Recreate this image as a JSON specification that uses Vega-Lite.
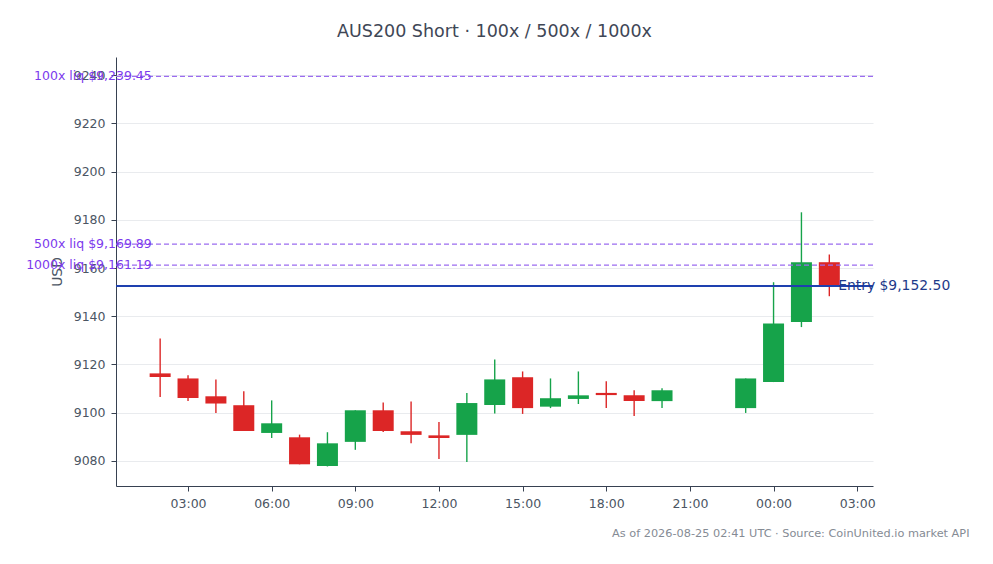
{
  "$schema": "https://vega.github.io/schema/vega-lite/v6.json",
  "width": 757,
  "height": 429,
  "autosize": {"type": "none"},
  "padding": {"left": 116, "top": 57, "right": 120, "bottom": 78},
  "background": "white",
  "title": {
    "text": "AUS200 Short · 100x / 500x / 1000x",
    "font": "DejaVu Sans",
    "fontSize": 17.5,
    "fontWeight": "normal",
    "color": "#3f4756",
    "anchor": "middle",
    "offset": 17
  },
  "config": {
    "view": {"stroke": null},
    "font": "DejaVu Sans",
    "axis": {
      "labelFont": "DejaVu Sans",
      "titleFont": "DejaVu Sans",
      "labelFontSize": 12.5,
      "labelColor": "#4b5563",
      "domainColor": "#374151",
      "tickColor": "#374151",
      "tickSize": 5,
      "labelPadding": 6,
      "gridColor": "#e9ebee"
    }
  },
  "datasets": {
    "candles": [
      {"t": "2026-08-24T02:00:00Z", "open": 9116.3, "high": 9130.8, "low": 9106.5, "close": 9114.8, "dir": "down"},
      {"t": "2026-08-24T03:00:00Z", "open": 9114.2, "high": 9115.5, "low": 9104.8, "close": 9106.1, "dir": "down"},
      {"t": "2026-08-24T04:00:00Z", "open": 9106.8, "high": 9113.8, "low": 9099.9, "close": 9103.8, "dir": "down"},
      {"t": "2026-08-24T05:00:00Z", "open": 9103.1, "high": 9108.9, "low": 9092.4, "close": 9092.4, "dir": "down"},
      {"t": "2026-08-24T06:00:00Z", "open": 9091.6, "high": 9105.1, "low": 9089.5, "close": 9095.6, "dir": "up"},
      {"t": "2026-08-24T07:00:00Z", "open": 9089.8, "high": 9090.9, "low": 9078.6, "close": 9078.6, "dir": "down"},
      {"t": "2026-08-24T08:00:00Z", "open": 9077.9, "high": 9091.9, "low": 9077.7, "close": 9087.3, "dir": "up"},
      {"t": "2026-08-24T09:00:00Z", "open": 9087.9, "high": 9101.0, "low": 9084.6, "close": 9101.0, "dir": "up"},
      {"t": "2026-08-24T10:00:00Z", "open": 9101.0, "high": 9104.2, "low": 9092.0, "close": 9092.4, "dir": "down"},
      {"t": "2026-08-24T11:00:00Z", "open": 9092.3, "high": 9104.6, "low": 9087.3, "close": 9090.8, "dir": "down"},
      {"t": "2026-08-24T12:00:00Z", "open": 9090.6, "high": 9096.1, "low": 9080.8, "close": 9089.5, "dir": "down"},
      {"t": "2026-08-24T13:00:00Z", "open": 9090.8, "high": 9108.2, "low": 9079.6, "close": 9104.0, "dir": "up"},
      {"t": "2026-08-24T14:00:00Z", "open": 9103.2, "high": 9122.1, "low": 9099.7, "close": 9113.8, "dir": "up"},
      {"t": "2026-08-24T15:00:00Z", "open": 9114.7, "high": 9117.1, "low": 9099.5, "close": 9101.9, "dir": "down"},
      {"t": "2026-08-24T16:00:00Z", "open": 9102.5, "high": 9114.2, "low": 9101.9, "close": 9106.0, "dir": "up"},
      {"t": "2026-08-24T17:00:00Z", "open": 9105.7, "high": 9117.1, "low": 9103.6, "close": 9107.2, "dir": "up"},
      {"t": "2026-08-24T18:00:00Z", "open": 9108.2, "high": 9113.0, "low": 9101.9, "close": 9107.3, "dir": "down"},
      {"t": "2026-08-24T19:00:00Z", "open": 9107.2, "high": 9109.3, "low": 9098.6, "close": 9104.8, "dir": "down"},
      {"t": "2026-08-24T20:00:00Z", "open": 9104.8, "high": 9110.1, "low": 9101.9, "close": 9109.3, "dir": "up"},
      {"t": "2026-08-24T23:00:00Z", "open": 9101.9, "high": 9114.2, "low": 9099.9, "close": 9114.2, "dir": "up"},
      {"t": "2026-08-25T00:00:00Z", "open": 9112.7, "high": 9154.1, "low": 9112.7, "close": 9137.0, "dir": "up"},
      {"t": "2026-08-25T01:00:00Z", "open": 9137.6, "high": 9183.1, "low": 9135.5, "close": 9162.4, "dir": "up"},
      {"t": "2026-08-25T02:00:00Z", "open": 9162.4, "high": 9165.6, "low": 9148.3, "close": 9152.5, "dir": "down"}
    ],
    "liq": [
      {"t": "2026-08-24T01:42:00Z", "price": 9239.45, "label": "100x liq $9,239.45"},
      {"t": "2026-08-24T01:42:00Z", "price": 9169.89, "label": "500x liq $9,169.89"},
      {"t": "2026-08-24T01:42:00Z", "price": 9161.19, "label": "1000x liq $9,161.19"}
    ],
    "entry": [
      {"t": "2026-08-25T02:19:00Z", "price": 9152.5, "label": "Entry $9,152.50"}
    ]
  },
  "layer": [
    {
      "data": {"name": "candles"},
      "mark": {"type": "rule", "strokeWidth": 1.4},
      "encoding": {
        "x": {
          "field": "t",
          "type": "temporal",
          "scale": {
            "type": "utc",
            "padding": 0,
            "domain": [
              {"year": 2026, "month": 8, "date": 24, "hours": 0, "minutes": 25, "utc": true},
              {"year": 2026, "month": 8, "date": 25, "hours": 3, "minutes": 34, "utc": true}
            ]
          },
          "axis": {
            "format": "%H:%M",
            "grid": false,
            "values": [
              {"year": 2026, "month": 8, "date": 24, "hours": 3, "utc": true},
              {"year": 2026, "month": 8, "date": 24, "hours": 6, "utc": true},
              {"year": 2026, "month": 8, "date": 24, "hours": 9, "utc": true},
              {"year": 2026, "month": 8, "date": 24, "hours": 12, "utc": true},
              {"year": 2026, "month": 8, "date": 24, "hours": 15, "utc": true},
              {"year": 2026, "month": 8, "date": 24, "hours": 18, "utc": true},
              {"year": 2026, "month": 8, "date": 24, "hours": 21, "utc": true},
              {"year": 2026, "month": 8, "date": 25, "hours": 0, "utc": true},
              {"year": 2026, "month": 8, "date": 25, "hours": 3, "utc": true}
            ],
            "title": "As of 2026-08-25 02:41 UTC · Source: CoinUnited.io market API",
            "titleFontSize": 11.3,
            "titleFontWeight": "normal",
            "titleColor": "#858b94",
            "titleAlign": "right",
            "titleAnchor": "end",
            "titleBaseline": "middle",
            "titleX": 853,
            "titleY": 47
          }
        },
        "y": {
          "field": "low",
          "type": "quantitative",
          "scale": {"domain": [9069.6, 9247.5], "zero": false, "nice": false, "padding": 0},
          "axis": {
            "values": [9080, 9100, 9120, 9140, 9160, 9180, 9200, 9220, 9240],
            "format": "d",
            "grid": true,
            "title": "USD",
            "titleFontSize": 13.9,
            "titleFontWeight": "normal",
            "titleColor": "#4b5563",
            "titlePadding": 9
          }
        },
        "y2": {"field": "high"},
        "color": {
          "field": "dir",
          "type": "nominal",
          "scale": {"domain": ["up", "down"], "range": ["#16a34a", "#dc2626"]},
          "legend": null
        }
      }
    },
    {
      "data": {"name": "candles"},
      "mark": {"type": "bar", "width": 21},
      "encoding": {
        "x": {"field": "t", "type": "temporal"},
        "y": {"field": "open", "type": "quantitative"},
        "y2": {"field": "close"},
        "color": {"field": "dir", "type": "nominal", "legend": null}
      }
    },
    {
      "data": {"name": "liq"},
      "mark": {"type": "rule", "color": "#9b6cf0", "strokeDash": [5, 3], "strokeWidth": 1.3},
      "encoding": {
        "y": {"field": "price", "type": "quantitative"}
      }
    },
    {
      "data": {"name": "entry"},
      "mark": {"type": "rule", "color": "#1e40af", "strokeWidth": 2},
      "encoding": {
        "y": {"field": "price", "type": "quantitative"}
      }
    },
    {
      "data": {"name": "liq"},
      "mark": {"type": "text", "align": "right", "baseline": "middle", "fontSize": 12.5, "color": "#7c3aed", "clip": false},
      "encoding": {
        "x": {"field": "t", "type": "temporal"},
        "y": {"field": "price", "type": "quantitative"},
        "text": {"field": "label"}
      }
    },
    {
      "data": {"name": "entry"},
      "mark": {"type": "text", "align": "left", "baseline": "middle", "fontSize": 13.9, "color": "#1e3a8a", "clip": false},
      "encoding": {
        "x": {"field": "t", "type": "temporal"},
        "y": {"field": "price", "type": "quantitative"},
        "text": {"field": "label"}
      }
    }
  ]
}
